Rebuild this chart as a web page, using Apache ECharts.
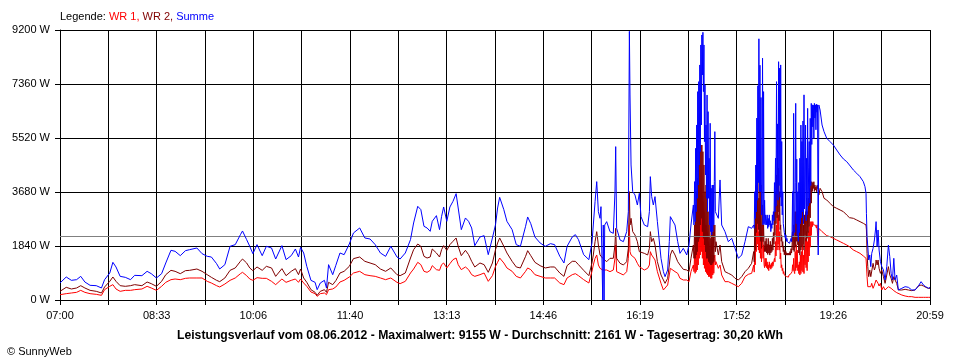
<!DOCTYPE html>
<html><head><meta charset="utf-8">
<script src="https://cdn.jsdelivr.net/npm/echarts@6/dist/echarts.min.js"></script>
<style>html,body{margin:0;padding:0;background:#fff}#c{width:960px;height:360px}</style>
</head><body><div id="c"></div>
<script>
// time axis labels (every second grid line)
const tickLabels = ['07:00','08:33','10:06','11:40','13:13','14:46','16:19','17:52','19:26','20:59'];
const spanMinutes = 839; // 07:00 .. 20:59
const yTicksW = [0, 1840, 3680, 5520, 7360, 9200];
const average = 2161;

// sample times, minutes after 07:00
const times = [
0,6,11,16,20,24,29,35,40,43,48,51,54,58,63,68,72,79,84,88,93,98,102,107,111,116,121,125,132,137,142,146,151,154,159,164,169,174,176,180,183,186,190,195,199,204,208,214,218,223,227,230,232,235,238,242,246,248,251,255,257,259,263,266,270,274,279,
283,289,294,299,304,309,314,319,325,328,333,338,341,345,348,351,354,357,359,363,366,368,370,373,376,379,382,384,387,391,394,397,400,405,409,413,417,420,422,424,428,431,436,440,444,449,451,454,458,463,468,473,477,482,486,489,494,497,500,505,510,513,
514.3,516,517.6,519.2,520.8,521.7,523.4,523.9,524.7,525.3,527.2,530.4,533.6,535.2,535.9,536.8,540.1,543.3,546.5,548.1,549.1,549.7,550.7,552.3,554.5,556.8,558.7,560.3,563.5,566.7,568.4,569.3,570.6,572.2,573.8,576.1,579.6,581.9,583.5,586,587.6,588.6,590.5,593.1,595.7,
597.9,601.1,604.4,606.6,608.5,
610.8,611.4,612,612.5,613,613.5,614,614.5,615,615.5,616,616.5,617,617.5,618,618.5,619,619.5,620,620.5,621,621.5,622,622.5,623,623.5,624,624.5,625,625.5,626,626.5,627,627.5,628,628.5,629,629.5,630,630.5,631,631.5,632,632.6,
634.9,636.5,638.1,641.3,644.5,647.8,651,654.2,657.4,660.6,663.8,667,
669,669.5,670,670.5,671,671.5,672,672.5,673,673.5,674,674.5,675,675.5,676,676.5,677,677.5,678,678.5,
679,679.5,680,680.5,681,681.5,682,682.5,683,683.5,684,684.5,685,685.5,686,686.5,687,687.5,688,688.5,
689,689.5,690,690.5,691,691.5,692,692.5,693,693.5,694,694.5,695,695.5,696,696.5,697,697.5,698,698.5,
699,699.5,700,700.5,701,701.5,702,702.5,703,703.5,704,704.5,705,705.5,706,706.5,707,707.5,708,708.5,
709,709.5,710,710.5,711,711.5,712,712.5,713,713.5,714,714.5,715,715.5,716,716.5,717,717.5,718,718.5,
719,719.5,720,720.5,721,721.5,722,722.5,723,723.5,724,724.5,725,725.5,726,726.5,727,727.5,728,728.5,
729,729.5,730,730.5,731,
731.2,731.8,733,734.9,736.8,739.4,742.6,745.8,749,752.3,755.5,758.7,761.3,
765.1,768.3,771.5,774.7,776.3,777.3,
777.7,778.3,779,779.9,780.9,781.9,782.8,784.1,785.4,786.4,787,788,788.9,789.9,791.2,792.5,794.1,795.7,797.3,798.9,800.2,801.5,802.8,804.1,805.3,806.9,808.5,811.8,815,818.2,821.4,824.6,827.8,830.4,832.7,834.9,837.5,839
];

// WR 1 (W)
const wr1 = [
182,216,239,261,329,261,216,193,159,352,466,523,375,295,329,329,352,375,466,409,329,466,602,693,716,693,738,750,750,750,636,579,488,443,545,670,750,897,943,829,716,670,761,738,738,636,523,716,602,670,716,602,716,579,466,273,216,125,216,239,182,352,375,443,613,670,784,
920,977,863,829,806,750,693,750,602,557,636,920,1056,1284,1204,977,943,1011,1170,1034,1011,1204,1261,1091,1238,1375,1431,1204,1034,1125,1034,863,806,863,920,636,829,1147,1284,1431,1261,1091,977,806,750,977,1091,1034,863,806,750,750,750,579,523,750,863,897,829,693,579,977,
1193,1420,1534,1193,1079,1022,1022,1022,1022,1022,1022,966,1022,1420,1874,966,909,852,966,1420,2556,1647,1534,1534,1420,1250,1136,1102,1022,1079,1193,1647,1534,1534,1363,966,568,341,284,511,852,1079,1079,966,909,
738,682,682,625,966,
1193,966,1647,909,2102,966,2556,1022,3010,1193,3238,1420,3578,1534,3692,1647,3578,1420,3351,1193,3010,1079,2556,966,2556,909,2329,852,1988,795,1647,795,1420,738,1534,738,1420,852,1534,909,1420,1534,1193,1306,
1079,1193,852,625,625,568,511,454,568,795,875,909,
1190,950,1650,1200,2560,1650,3120,1900,2780,1700,2330,1600,2900,1420,2560,1300,1650,2560,1420,1880,
1200,1100,1420,1150,1420,1100,1300,1050,1200,1000,1300,1100,1200,1050,1250,1100,1300,1150,1200,1100,
1420,1300,1990,1500,2560,1700,3240,1900,2900,1700,2330,1400,1600,1100,1200,1000,1080,900,970,850,
900,800,850,800,800,780,800,780,850,800,860,800,900,850,970,1200,1000,1420,970,900,
1650,1000,1880,1100,1700,1000,1200,900,1300,850,1530,900,1650,1000,1900,950,1530,900,1700,1200,
2100,1100,2330,1000,1990,1300,2330,1500,2500,1800,2670,2200,2670,2500,2670,2560,2610,2500,2620,2550,
2500,2450,2560,2500,2556,
1874,2442,2442,2329,2272,2192,2158,2102,2045,1988,1931,1874,1818,
1704,1647,1590,1500,1454,1420,
1193,795,454,454,477,454,568,398,511,568,682,625,568,477,568,341,454,341,398,454,511,398,341,318,284,250,227,170,136,114,114,91,91,91,91,91,91,91
];

// WR 2 (W)
const wr2 = [
295,432,375,409,488,409,329,295,239,443,636,784,636,488,466,488,523,488,613,557,466,636,863,1011,977,897,1000,1011,1056,977,863,772,670,625,750,1011,1091,1318,1397,1261,1091,1000,1125,1011,1147,1091,806,1068,829,977,1068,863,1056,750,602,352,261,159,295,352,261,602,523,659,920,977,1147,
1409,1465,1318,1261,1204,1056,977,1091,863,829,920,1431,1715,1908,1829,1488,1431,1465,1738,1602,1465,1715,1852,1693,1886,2000,2113,1829,1511,1693,1545,1318,1125,1261,1204,943,1261,1715,1943,2113,1829,1602,1318,1125,1091,1488,1681,1511,1284,1170,1091,1125,1125,920,806,1170,1318,1318,1204,1011,829,1261,
1534,1988,2329,1874,1534,1477,1420,1420,1420,1420,1306,1420,1420,1874,2442,1420,1250,1193,1306,1761,3692,2556,2783,2329,2215,1988,1647,1647,1590,1534,1761,2329,1988,2102,1874,1306,852,682,568,738,1193,1534,1704,1534,1306,
1193,1045,1022,966,1420,
1874,1420,2556,1420,3238,1534,3692,1647,4147,1988,4601,2102,5055,2556,5282,2783,5282,2329,5055,2102,4601,1874,3692,1647,3919,1420,3465,1420,3010,1306,2556,1250,2102,1193,2556,1193,2329,1250,2556,1306,2102,2556,1647,1988,
1534,1874,1306,966,909,852,738,682,795,966,1079,1250,
1650,1300,2560,1700,3900,2300,4600,2600,4370,2400,3470,2200,4710,2000,3920,1760,2560,3240,1990,2560,
1880,1650,2000,1650,2100,1600,1900,1550,2100,1600,1880,1530,2000,1600,1880,1650,2100,1700,2300,1900,
3010,2200,3690,2600,4260,2800,4830,3000,4490,2700,3690,2400,2560,2000,2200,1800,1990,1650,1800,1540,
1700,1530,1650,1530,1600,1530,1600,1530,1600,1530,1650,1530,1750,1600,1880,2330,1700,2560,1650,2200,
3010,1800,3010,2000,2700,1880,2100,1600,2400,1530,2780,1700,2900,1800,3200,1900,2560,1700,2900,2200,
3010,2000,3470,2100,3010,2300,3470,2500,3800,2800,4030,3300,4030,3700,4000,3800,4030,3700,3920,3750,
3850,3690,3900,3800,3920,
3919,3578,3806,3692,3465,3408,3294,3181,3124,3067,3010,2897,2806,
2783,2726,2670,2613,2590,2556,
2386,1590,1136,795,1022,795,852,1250,1022,1136,1363,1193,1363,1079,909,1022,795,568,852,1136,852,738,568,795,682,568,341,341,364,341,318,341,477,511,477,432,398,398
];

// Summe (W)
const summe = [
580,784,670,693,806,613,500,488,409,693,920,1284,1125,806,772,693,840,829,977,897,750,897,1261,1693,1659,1511,1681,1715,1772,1579,1488,1465,1238,1056,1204,1829,1886,2227,2352,2056,1829,1579,1886,1511,1829,1772,1397,1852,1375,1511,1738,1465,1795,1602,1147,670,602,352,579,670,409,1204,863,1181,1602,1545,1908,
2283,2454,2113,2079,1886,1602,1488,1829,1465,1397,1602,2056,2624,3192,3079,2511,2454,2340,2681,2874,2397,2851,3169,2681,3169,3363,3624,3135,2397,2795,2681,2454,1852,2147,2192,1545,2113,2567,3135,3499,3079,2681,2397,1886,1829,2511,2829,2601,2147,1943,1829,1920,1886,1488,1261,1829,2147,2227,2056,1545,1375,1943,
2556,3351,4033,3010,2783,3181,0,2556,0,2556,2670,2329,2272,3692,5226,2442,2045,1988,2329,3010,9155,6986,4601,3692,3578,3238,3635,2840,2556,2499,3010,4203,3522,3238,3522,2670,1420,966,795,1022,1988,2840,2783,2556,1988,
1590,1761,1534,1874,2556,
3238,2556,4033,2670,5169,3010,5964,3465,7100,3919,7441,4601,8009,5055,8690,5964,9031,7668,9122,7100,8690,5396,7327,4260,5964,3465,6986,3010,6418,3465,4828,2556,6021,2329,3806,2215,3919,2329,3919,2556,4033,5737,3010,3010,
2783,4090,2556,2329,1988,2102,1761,1420,1534,1988,2499,2442,
2556,2440,3690,2780,4600,3000,6200,3400,7300,4000,8900,3700,8000,3690,6900,2900,3200,8240,2560,7100,
2600,3400,2560,2900,2780,2560,2900,2440,2780,2500,2900,2560,2700,2330,2600,2440,2900,2560,3010,2700,
4000,3000,4830,3200,7440,3600,6000,3400,8120,3900,7900,3500,8010,3200,5400,2900,3690,2600,2560,2300,
2330,2100,2220,2000,2100,1990,2050,1950,2000,1930,1990,1930,2100,1990,2330,3690,2200,6360,2560,2300,
4000,6700,2600,4800,2200,3690,2000,4000,2300,4830,2600,5960,2800,5400,3000,6100,2600,6990,3100,3690,
5960,2700,4830,2900,6530,3200,4500,5400,3300,6190,3900,6700,5300,6650,5900,6640,5500,6700,6200,6650,
5800,6670,6400,6650,6640,
1534,6646,6475,5964,5737,5510,5396,5282,5112,4942,4805,4714,4601,
4430,4317,4203,4033,3862,3635,
2954,2158,1818,1363,1534,1136,1590,1761,2045,2386,2670,1818,2386,1704,1306,1136,1022,682,1136,1874,1477,909,682,1420,682,852,341,398,454,432,341,341,477,625,511,454,398,432
];

const FONT = "'Liberation Sans', Arial, sans-serif";
const zip = arr => times.map((t, i) => [t, arr[i]]);
const xInterval = spanMinutes / 18;
const richStyle = c => ({color: c, fontSize: 11, fontWeight: 'normal', fontFamily: FONT});

const chart = echarts.init(document.getElementById('c'), null, {renderer: 'canvas'});
chart.setOption({
  animation: false,
  backgroundColor: '#ffffff',
  textStyle: {fontFamily: FONT},
  title: [
    {
      text: '{k|Legende: }{a|WR 1, }{b|WR 2, }{c|Summe}',
      left: 55, top: 6,
      textStyle: {fontWeight: 'normal', fontSize: 11, rich: {
        k: richStyle('#000000'), a: richStyle('#ff0000'), b: richStyle('#800000'), c: richStyle('#0000ff')
      }}
    },
    {
      text: 'Leistungsverlauf vom 08.06.2012 - Maximalwert: 9155 W - Durchschnitt: 2161 W - Tagesertrag: 30,20 kWh',
      left: 'center', top: 325,
      textStyle: {color: '#000', fontSize: 12.2, fontWeight: 'bold', fontFamily: FONT}
    },
    {
      text: '© SunnyWeb',
      left: 2, top: 341,
      textStyle: {color: '#000', fontSize: 11, fontWeight: 'normal', fontFamily: FONT}
    }
  ],
  grid: {left: 60, right: 30, top: 30, bottom: 60, containLabel: false},
  xAxis: {
    type: 'value', min: 0, max: spanMinutes, interval: xInterval,
    axisLine: {show: true, lineStyle: {color: '#000', width: 1}},
    axisTick: {show: true, length: 5, lineStyle: {color: '#000'}},
    splitLine: {show: true, lineStyle: {color: '#000', width: 1}},
    axisLabel: {
      color: '#000', fontSize: 11, fontFamily: FONT, margin: 10, showMinLabel: true, showMaxLabel: true,
      formatter: v => {
        const k = Math.round(v / xInterval);
        return k % 2 === 0 ? (tickLabels[k / 2] || '') : '';
      }
    }
  },
  yAxis: {
    type: 'value', min: yTicksW[0], max: yTicksW[yTicksW.length - 1], interval: yTicksW[1] - yTicksW[0],
    axisLine: {show: true, lineStyle: {color: '#000', width: 1}},
    axisTick: {show: true, length: 5, lineStyle: {color: '#000'}},
    splitLine: {show: true, lineStyle: {color: '#000', width: 1}},
    axisLabel: {color: '#000', fontSize: 11, fontFamily: FONT, margin: 10, formatter: v => String(v) + ' W'}
  },
  series: [
    {
      name: 'WR 1', type: 'line', data: zip(wr1), showSymbol: false, symbol: 'none',
      lineStyle: {color: '#ff0000', width: 1}, itemStyle: {color: '#ff0000'}, z: 3,
      markLine: {
        silent: true, symbol: 'none', label: {show: false},
        lineStyle: {color: '#808080', width: 1, type: 'solid'},
        data: [{yAxis: average}]
      }
    },
    {
      name: 'WR 2', type: 'line', data: zip(wr2), showSymbol: false, symbol: 'none',
      lineStyle: {color: '#800000', width: 1}, itemStyle: {color: '#800000'}, z: 4
    },
    {
      name: 'Summe', type: 'line', data: zip(summe), showSymbol: false, symbol: 'none',
      lineStyle: {color: '#0000ff', width: 1}, itemStyle: {color: '#0000ff'}, z: 5
    }
  ]
});
</script>
</body></html>
